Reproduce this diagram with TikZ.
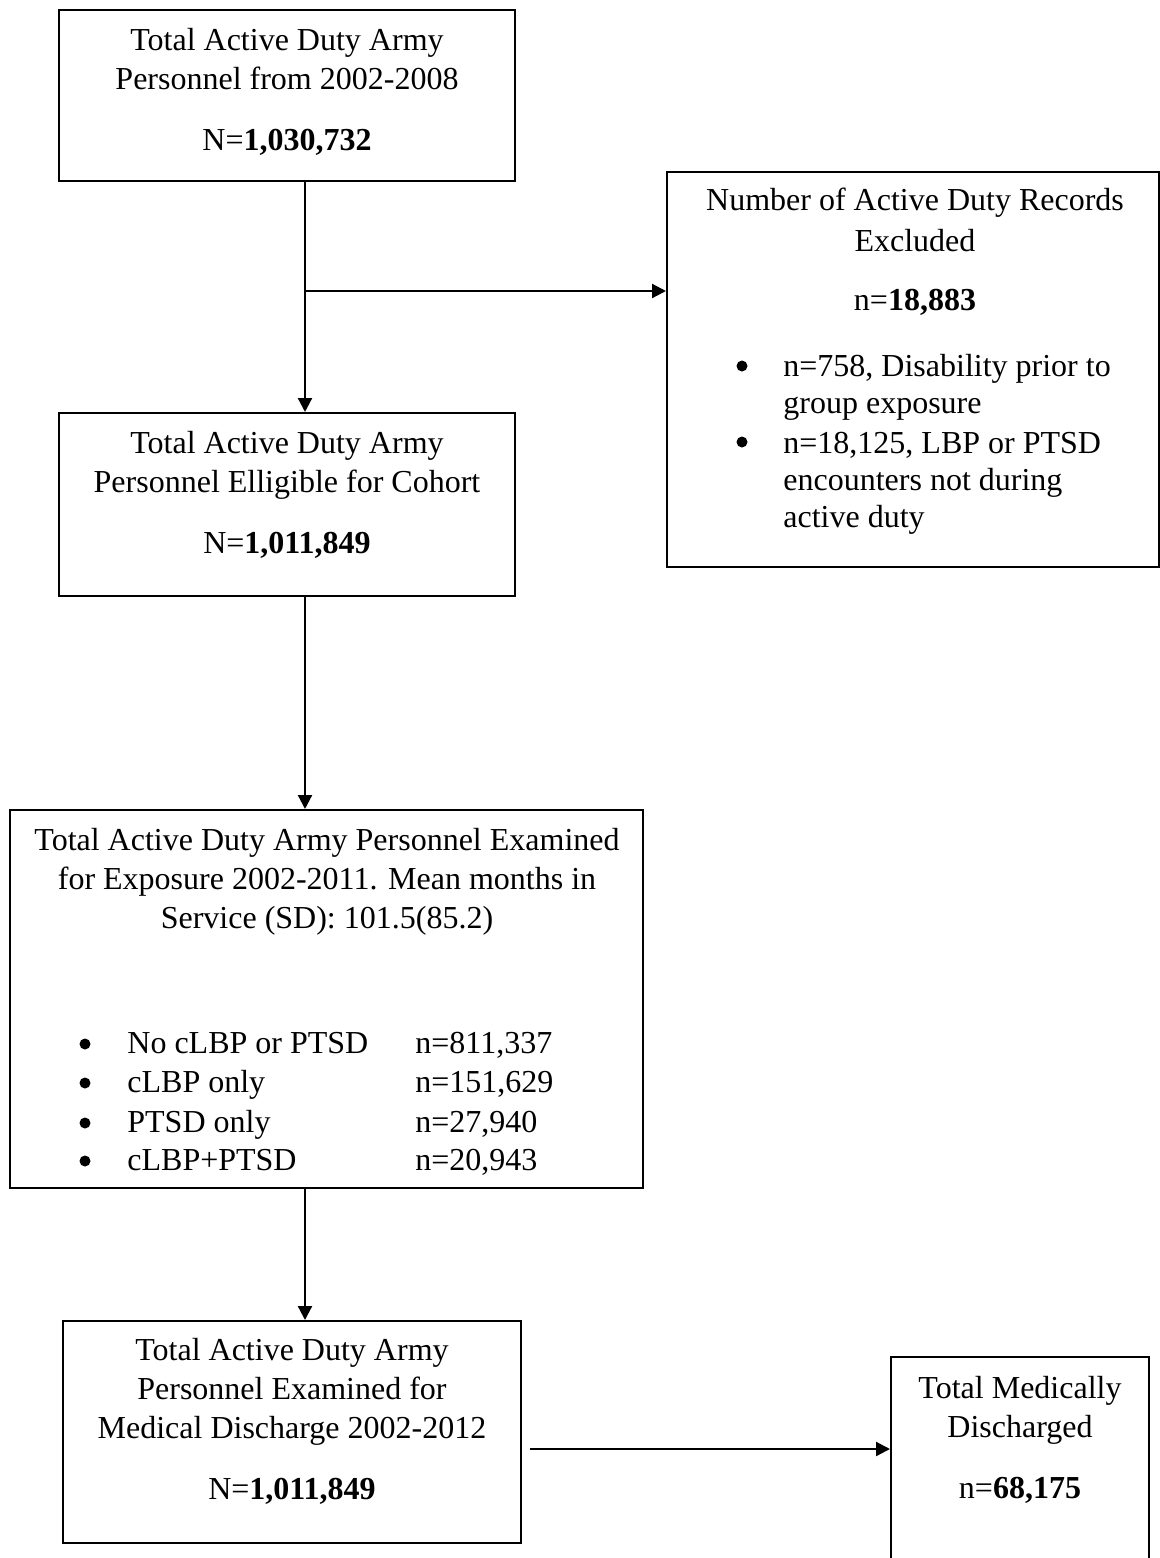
\documentclass[tikz,border=0pt]{standalone}
\usepackage{fontspec}
\setmainfont{Liberation Serif}
\usetikzlibrary{arrows.meta,positioning,calc}

\begin{document}
\begin{tikzpicture}[
		x=0.5pt,y=-0.5pt,
		>={Triangle[length=7pt,width=7pt]},
		box/.style={
			draw,
			line width=1pt,
			inner sep=0pt
		},
		txt/.style={
			font=\fontsize{16}{19.5}\selectfont,
			inner sep=0pt,
			align=center,
			anchor=north
		},
		listtxt/.style={
			font=\fontsize{16}{18.5}\selectfont,
			inner sep=0pt,
			align=left,
			anchor=north west
		},
		item/.style={
			font=\fontsize{16}{19.5}\selectfont,
			inner sep=0pt,
			anchor=base west
		},
		bullet/.style={
			fill=black,
			circle,
			minimum size=5.5pt,
			inner sep=0pt
		},
		connect/.style={
			->,
			line width=1.1pt
		}
		]
		\useasboundingbox (0,0) rectangle (1160,1558);
		\clip (0,0) rectangle (1160,1558);
		
		% boxes
		\node[box,minimum width=228pt,minimum height=85.5pt] (total) at (287,95.5){};
		\node[box,minimum width=246pt,minimum height=197.5pt] (excluded) at (913,369.5){};
		\node[box,minimum width=228pt,minimum height=91.5pt] (eligible) at (287,504.5){};
		\node[box,minimum width=316.5pt,minimum height=189pt] (examined) at (326.5,999){};
		\node[box,minimum width=229pt,minimum height=111pt] (discharge) at (292,1432){};
		\node[box,minimum width=129pt,minimum height=121.5pt] (medical) at (1020,1478.5){};
		
		% texts
		\node[txt] (totaltxt) at (287,28) {Total Active Duty Army\\Personnel from 2002-2008\\[11pt]N=\textbf{1,030,732}};
		\node[txt] (excludedtxt) at (915,188) {Number of Active Duty Records\\[1pt]Excluded\\[10pt]n=\textbf{18,883}};
		\node[bullet] (bulleta) at (742,366){};
		\node[bullet] (bulletb) at (742,442){};
		\node[listtxt] (reasons) at (783,354) {n=758, Disability prior to\\group exposure\\[1.5pt]n=18,125, LBP or PTSD\\encounters not during\\active duty};
		\node[txt] (eligibletxt) at (287,431) {Total Active Duty Army\\Personnel Elligible for Cohort\\[11pt]N=\textbf{1,011,849}};
		\node[txt] (examinedtxt) at (327,828) {Total Active Duty Army Personnel Examined\\for Exposure 2002-2011. Mean months in\\Service (SD): 101.5(85.2)};
		\foreach \y/\grp/\num in {1053/{No cLBP or PTSD}/{n=811,337},1092/{cLBP only}/{n=151,629},1132/{PTSD only}/{n=27,940},1170/{cLBP+PTSD}/{n=20,943}}{
			\node[bullet] (dot\y) at (85,\y-9){};
			\node[item] (grp\y) at (127,\y) {\grp};
			\node[item] (num\y) at (415,\y) {\num};
		}
		\node[txt] (dischargetxt) at (292,1338) {Total Active Duty Army\\Personnel Examined for\\Medical Discharge 2002-2012\\[11pt]N=\textbf{1,011,849}};
		\node[txt] (medicaltxt) at (1020,1376) {Total Medically\\Discharged\\[11pt]n=\textbf{68,175}};
		
		% connectors
		\coordinate (split) at (305,291);
		\coordinate (side) at (530,1449);
		\draw[connect] (total.south -| split) -- (eligible.north -| split);
		\draw[connect] (split) -- (excluded.west |- split);
		\draw[connect] (eligible.south -| split) -- (examined.north -| split);
		\draw[connect] (examined.south -| split) -- (discharge.north -| split);
		\draw[connect] (side) -- (medical.west |- side);
		\end{tikzpicture}
\end{document}
